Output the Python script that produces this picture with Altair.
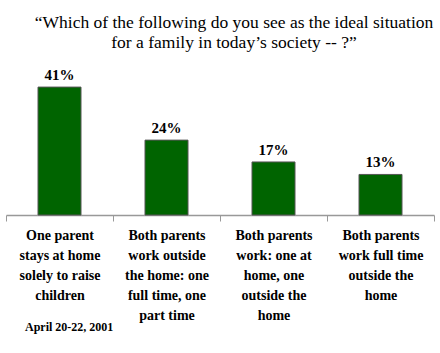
import altair as alt
import pandas as pd

categories = [
    "One parent|stays at home|solely to raise|children",
    "Both parents|work outside|the home: one|full time, one|part time",
    "Both parents|work: one at|home, one|outside the|home",
    "Both parents|work full time|outside the|home",
]
values = [41, 24, 17, 13]
labels = ["41%", "24%", "17%", "13%"]
title_lines = ["\u201cWhich of the following do you see as the ideal situation",
               "for a family in today\u2019s society -- ?\u201d"]
date_note = "April 20-22, 2001"

SERIF = "Liberation Serif"

df = pd.DataFrame({"cat": categories, "val": values, "lab": labels})

x = alt.X("cat:N", sort=categories, title=None,
          scale=alt.Scale(paddingInner=0, paddingOuter=0),
          axis=alt.Axis(labelExpr="split(datum.label, '|')", labelAngle=0,
                        labelFont=SERIF, labelFontWeight="bold",
                        labelFontSize=14, labelColor="black", labelLineHeight=20,
                        labelPadding=14, labelLimit=0,
                        tickBand="extent", tickSize=6, tickColor="#999999",
                        domainColor="#999999", domainWidth=1.5, labelBaseline="middle"))
y = alt.Y("val:Q", scale=alt.Scale(domain=[0, 50]), axis=None)

bars = alt.Chart(df).mark_bar(size=43, color="#006400", stroke="#555555",
                              strokeWidth=1).encode(x=x, y=y)
text = alt.Chart(df).mark_text(dy=-12, font=SERIF, fontWeight="bold",
                               fontSize=15, color="black").encode(
    x=alt.X("cat:N", sort=categories), y="val:Q", text="lab:N")
note = alt.Chart(pd.DataFrame({"t": [date_note]})).mark_text(
    align="left", baseline="middle", font=SERIF, fontWeight="bold",
    fontSize=12, color="black").encode(x=alt.value(19), y=alt.value(268), text="t:N")

chart = alt.layer(bars, text, note).properties(
    width=428, height=156,
    title=alt.TitleParams(title_lines, font=SERIF, fontSize=17.5,
                          fontWeight="normal", color="black", anchor="middle",
                          dx=14, offset=8, lineHeight=20),
    autosize=alt.AutoSizeParams(type="none"),
    padding={"left": 6, "top": 59, "right": 6, "bottom": 138},
).configure_view(stroke=None)

chart.save("out.html", embed_options={"renderer": "svg", "actions": False})
